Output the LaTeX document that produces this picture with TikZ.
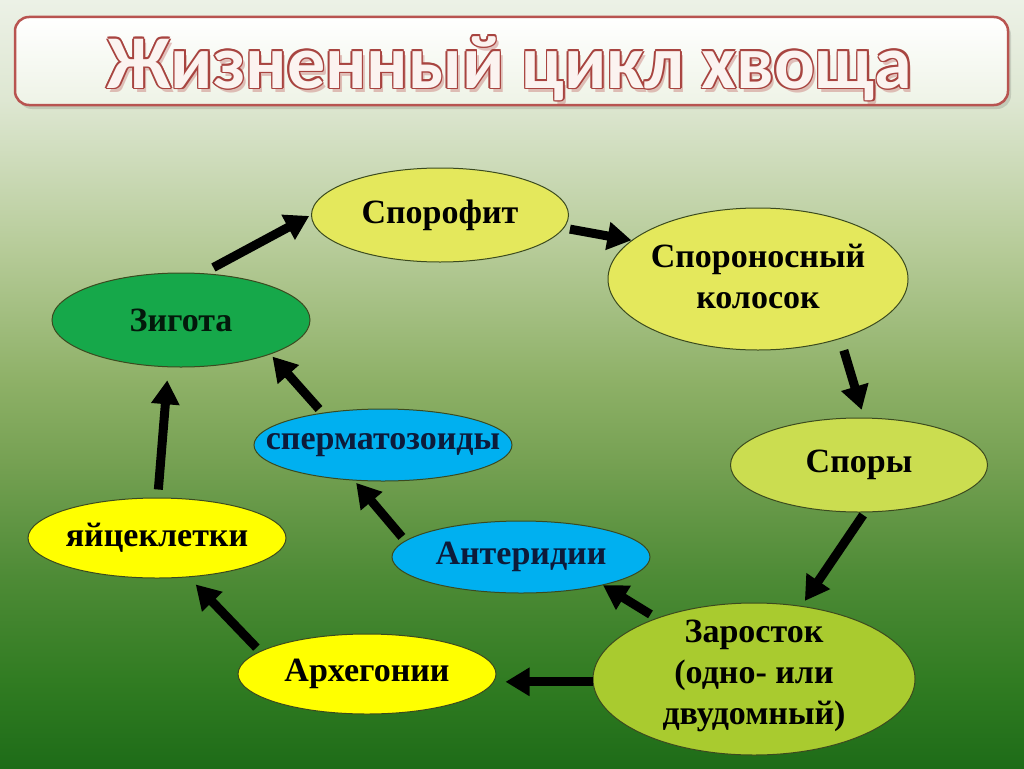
\documentclass[tikz,border=0pt]{standalone}
\usepackage{fontspec}
\setmainfont{Liberation Serif}
\newfontfamily\titlefont{Carlito}
\usetikzlibrary{shapes.geometric,arrows.meta,calc}
\definecolor{bgA}{HTML}{1E6C18}
\definecolor{bgB}{HTML}{317C22}
\definecolor{bgC}{HTML}{4E8B36}
\definecolor{bgD}{HTML}{76A153}
\definecolor{bgE}{HTML}{8DB066}
\definecolor{bgF}{HTML}{B6CB98}
\definecolor{bgG}{HTML}{DEE7D2}
\definecolor{bgH}{HTML}{ECF1E6}
\definecolor{edgec}{HTML}{3B4A1F}
\definecolor{lightyg}{HTML}{E4E85C}
\definecolor{sporyc}{HTML}{CBDD50}
\definecolor{zarc}{HTML}{A9CB2F}
\definecolor{yel}{HTML}{FFFF00}
\definecolor{blu}{HTML}{00B0F0}
\definecolor{zigc}{HTML}{16A84A}
\definecolor{navy}{HTML}{0D1B3A}
\definecolor{tborder}{HTML}{B85450}
\definecolor{tedge}{HTML}{A84440}
\definecolor{tfill}{HTML}{FBF3F0}
\definecolor{tboxbot}{HTML}{EEF3E6}
\pgfdeclareverticalshading{bgshade}{100bp}{color(0bp)=(bgA); color(25bp)=(bgA); color(30.75bp)=(bgB); color(37.5bp)=(bgC); color(45bp)=(bgD); color(50bp)=(bgE); color(58.75bp)=(bgF); color(68.5bp)=(bgG); color(75bp)=(bgH); color(100bp)=(bgH)}
\newcommand\ttltext{Жизненный цикл хвоща}
\tikzset{
  bubble/.style={ellipse, draw=edgec, line width=1pt, inner sep=0pt},
  lbl/.style={font=\bfseries\fontsize{34}{41}\selectfont, align=center, text=black, inner sep=0pt},
  arr/.style={line width=9pt, -{Triangle[width=27pt,length=24pt]}},
  ttxt/.style={font=\titlefont\bfseries\fontsize{76}{86}\selectfont, inner sep=0pt, anchor=base},
}
\begin{document}
\begin{tikzpicture}[x=1pt,y=-1pt]
\useasboundingbox (0,0) rectangle (1024,768);
\shade[shading=bgshade] (0,0) rectangle (1024,768);
% title box
\fill[black,opacity=0.12,rounded corners=14pt] (18,21) rectangle (1011,109);
\node[draw=tborder, line width=2.5pt, rounded corners=14pt, top color=white, bottom color=tboxbot,
      minimum width=993pt, minimum height=88pt, inner sep=0pt] (tbox) at (511.5,61) {};
\coordinate (tpos) at (510,88);
\node[ttxt, text=tborder, opacity=0.35] (tshadow) at ($(tpos)+(3,4)$) {\ttltext};
\foreach \a in {0,45,...,315}{
  \node[ttxt, text=tedge] (te\a) at ($(tpos)+(\a:1.6)$) {\ttltext};
}
\node[ttxt, text=tfill] (title) at (tpos) {\ttltext};

% ellipses
\node[bubble, fill=lightyg, minimum width=257pt, minimum height=94pt] (spor) at (440,215) {};
\node[bubble, fill=lightyg, minimum width=300pt, minimum height=142pt] (spron) at (758,279) {};
\node[bubble, fill=sporyc, minimum width=257pt, minimum height=94pt] (spory) at (859,465) {};
\node[bubble, fill=zarc, minimum width=322pt, minimum height=152pt] (zar) at (754,679) {};
\node[bubble, fill=yel, minimum width=258pt, minimum height=80pt] (arch) at (367,674) {};
\node[bubble, fill=blu, minimum width=258pt, minimum height=72pt] (anter) at (521,557) {};
\node[bubble, fill=blu, minimum width=258pt, minimum height=72pt] (sperm) at (383,445) {};
\node[bubble, fill=yel, minimum width=258pt, minimum height=80pt] (yaic) at (157,538) {};
\node[bubble, fill=zigc, minimum width=258pt, minimum height=94pt] (zig) at (181,320) {};

% labels
\node[lbl] (tspor) at (spor) {Спорофит};
\node[lbl] (tspron) at ($(spron)+(0,-3)$) {Спороносный\\колосок};
\node[lbl] (tspory) at (spory) {Споры};
\node[lbl] (tzar) at ($(zar)+(0,-3)$) {Заросток\\(одно- или\\двудомный)};
\node[lbl] (tarch) at (arch) {Архегонии};
\node[lbl, text=navy] (tanter) at (anter) {Антеридии};
\node[lbl, text=navy] (tsperm) at (sperm) {сперматозоиды};
\node[lbl] (tyaic) at (yaic) {яйцеклетки};
\node[lbl, text=black!85!zigc] (tzig) at (zig) {Зигота};

% arrows
\draw[arr, shorten <=12pt, shorten >=2pt] (zig.65) -- (spor.west);
\draw[arr, shorten <=6pt] (spor.-6) -- (spron.163);
\draw[arr, shorten <=12pt, shorten >=8pt] (spron.-36) -- (spory.84);
\draw[arr, shorten <=3pt, shorten >=6pt] (spory.-83) -- (zar.57);
\draw[arr, shorten <=7pt] (zar.148) -- (anter.-19);
\draw[arr, shorten >=9pt] (zar.181) -- (arch.east |- zar.181);
\draw[arr, shorten <=5pt, shorten >=3pt] (anter.172) -- (sperm.-129);
\draw[arr, shorten <=5pt, shorten >=10pt] (arch.168) -- (yaic.-51);
\draw[arr, shorten <=8pt, shorten >=13pt] (yaic.89) -- (zig.-105);
\draw[arr, shorten <=5pt, shorten >=3pt] (sperm.152) -- (zig.-21);
\end{tikzpicture}
\end{document}
